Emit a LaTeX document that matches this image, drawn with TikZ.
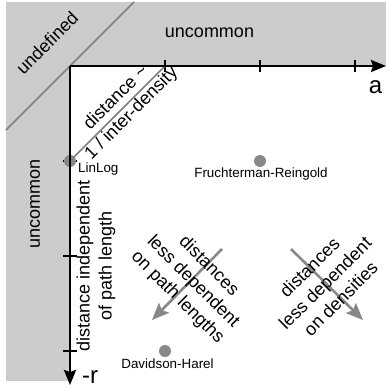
\documentclass[tikz,border=0pt]{standalone}
\usepackage{fontspec}
\setmainfont{Liberation Sans}
\usetikzlibrary{arrows.meta}
\definecolor{bggray}{HTML}{CCCCCC}
\definecolor{dotgray}{HTML}{888888}
\definecolor{linegray}{HTML}{808080}
\begin{document}
\begin{tikzpicture}[x=1pt,y=-1pt,
  txt/.style={font=\fontsize{18}{22}\selectfont, align=center, inner sep=0pt},
  small/.style={font=\fontsize{13.4}{15}\selectfont, inner sep=0pt},
  big/.style={font=\fontsize{24}{26}\selectfont, inner sep=0pt},
  dot/.style={circle, fill=dotgray, minimum size=12pt, inner sep=0pt},
  axis/.style={line width=2.4pt, black, -{Stealth[length=15pt,width=12pt,inset=2pt]}},
  tick/.style={line width=1.4pt, black},
  guide/.style={line width=1.6pt, linegray},
  garrow/.style={line width=2.6pt, dotgray, -{Stealth[length=17pt,width=14pt,inset=3pt]}}]
\useasboundingbox (0,0) rectangle (386,388);
% background regions
\fill[bggray] (6,2) rectangle (386,381);
\fill[white] (70,66) rectangle (386,388);
% undefined boundary
\coordinate (ul) at (6,130);
\coordinate (ur) at (134,2);
\draw[guide] (ul) -- (ur);
% axes
\coordinate (O) at (70,66);
\coordinate (xe) at (386,66);
\coordinate (ye) at (70,385);
% ticks
\foreach \x in {165,260,355} \draw[tick] (\x,60) -- (\x,72);
\foreach \y in {161,256,351} \draw[tick] (63,\y) -- (77,\y);
% dots
\node[dot] (linlog) at (70,161) {};
\node[dot] (fr) at (260,161) {};
\node[dot] (dh) at (165,351) {};
\coordinate (t1) at (165,66);
\draw[guide] (linlog.center) -- (t1);
\draw[axis] (O) -- (xe);
\draw[axis] (O) -- (ye);
% arrows
\coordinate (m1) at (222,249);
\coordinate (m2) at (152,320);
\coordinate (r1) at (291,249);
\coordinate (r2) at (363,320);
\draw[garrow] (m1) -- (m2);
\draw[garrow] (r1) -- (r2);
% labels
\node[small, anchor=base west] (linlogl) at (78,172) {LinLog};
\node[small, anchor=base] (frl) at (261,177.5) {Fruchterman-Reingold};
\node[small, anchor=base] (dhl) at (167.5,368) {Davidson-Harel};
\node[txt, anchor=base] (unctop) at (209.5,37) {uncommon};
\node[txt, rotate=90] (uncleft) at (35,204) {uncommon};
\node[txt, rotate=45] (undef) at (47,43) {undefined};
\node[big, anchor=base] (alab) at (375.5,93) {a};
\node[big, anchor=base west] (rlab) at (82,383) {-r};
\node[txt, rotate=90] (indep) at (96,266) {distance independent\\of path length};
\node[txt, rotate=45] (dens) at (124,106) {distance \textasciitilde\\1 / inter-density};
\node[txt, rotate=-45] (pathl) at (193,282) {distances\\less dependent\\on path lengths};
\node[txt, rotate=45] (densl) at (325,283) {distances\\less dependent\\on densities};
\end{tikzpicture}
\end{document}
